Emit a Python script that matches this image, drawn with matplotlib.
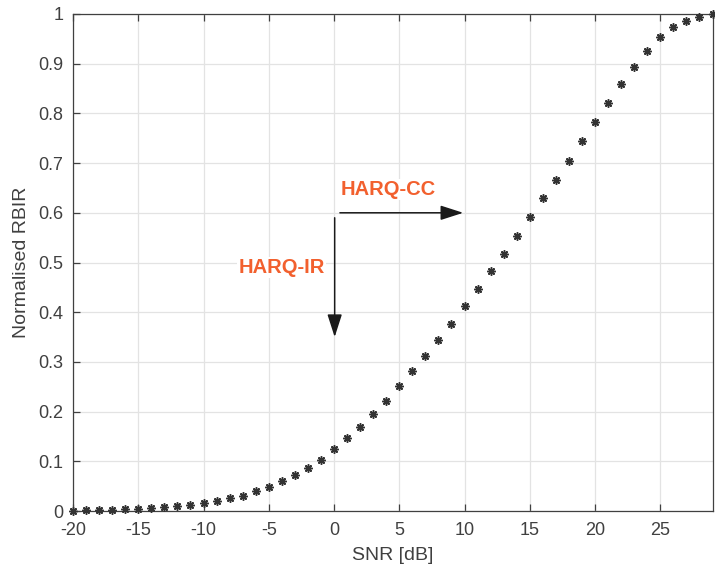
import matplotlib
matplotlib.use("Agg")
import matplotlib.pyplot as plt

plt.rcParams["font.family"] = ["Liberation Sans", "DejaVu Sans"]

# SNR grid in dB and normalised RBIR
snr_db = list(range(-20, 30))
rbir = [0.001, 0.002, 0.002, 0.003, 0.004, 0.005, 0.007, 0.009, 0.011, 0.013,
        0.016, 0.021, 0.026, 0.031, 0.040, 0.048, 0.060, 0.072, 0.087, 0.103,
        0.125, 0.146, 0.169, 0.195, 0.222, 0.251, 0.281, 0.311, 0.344, 0.377,
        0.412, 0.447, 0.482, 0.517, 0.554, 0.592, 0.629, 0.667, 0.705, 0.744,
        0.782, 0.821, 0.859, 0.894, 0.926, 0.953, 0.973, 0.986, 0.994, 0.999]

x_ticks = [-20, -15, -10, -5, 0, 5, 10, 15, 20, 25]
y_ticks = [0, 0.1, 0.2, 0.3, 0.4, 0.5, 0.6, 0.7, 0.8, 0.9, 1]
y_ticklabels = ["0", "0.1", "0.2", "0.3", "0.4", "0.5", "0.6", "0.7", "0.8", "0.9", "1"]

axis_col = "#404040"
orange = "#F2602E"

fig = plt.figure(figsize=(7.15, 5.75), dpi=100)
ax = fig.add_axes([73 / 715, 1 - 511 / 575, (712.5 - 73) / 715, (511 - 14) / 575])

ax.plot(snr_db, rbir, linestyle="none", marker=(8, 2, 0), markersize=6,
        markeredgewidth=1.1, color="#333333", clip_on=False, zorder=3)

ax.set_xlim(-20, 29)
ax.set_ylim(0, 1)
ax.set_xticks(x_ticks)
ax.set_xticklabels([str(t) for t in x_ticks])
ax.set_yticks(y_ticks)
ax.set_yticklabels(y_ticklabels)
ax.grid(True, color="#e3e3e3", linewidth=0.9)
ax.set_axisbelow(True)

for side in ["left", "bottom", "top", "right"]:
    ax.spines[side].set_color(axis_col)
    ax.spines[side].set_linewidth(0.9)
ax.tick_params(direction="in", length=5, width=0.9, colors=axis_col,
               labelsize=13, top=True, right=False)
ax.tick_params(axis="x", pad=8)
ax.tick_params(axis="y", pad=7)

ax.set_xlabel("SNR [dB]", fontsize=14, color=axis_col, labelpad=6)
ax.set_ylabel("Normalised RBIR", fontsize=14, color=axis_col, labelpad=6)

# annotation arrows
arrow_kw = dict(arrowstyle="-|>,head_length=1.4,head_width=0.45", color="#1a1a1a",
                lw=1.1, shrinkA=0, shrinkB=0)
ax.annotate("", xy=(9.9, 0.6), xytext=(0.45, 0.6), arrowprops=arrow_kw)
ax.annotate("", xy=(0.05, 0.35), xytext=(0.05, 0.59), arrowprops=arrow_kw)

box = dict(facecolor="white", edgecolor="none", pad=1)
ax.text(0.5, 0.647, "HARQ-CC", color=orange, fontsize=14.5, fontweight="bold",
        ha="left", va="center", bbox=box)
ax.text(-0.7, 0.49, "HARQ-IR", color=orange, fontsize=14.5, fontweight="bold",
        ha="right", va="center", bbox=box)

fig.savefig("out.png", dpi=100)
